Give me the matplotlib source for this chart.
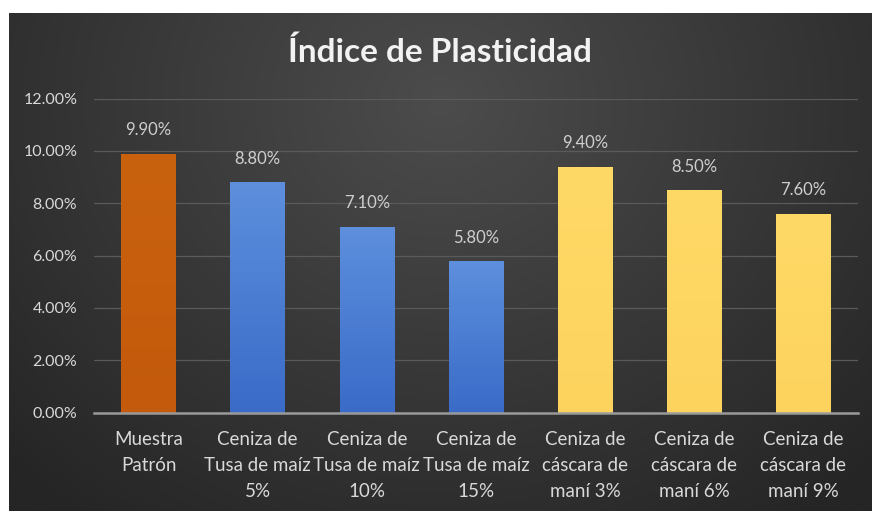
import numpy as np
import matplotlib
matplotlib.use("Agg")
import matplotlib.pyplot as plt
from matplotlib.ticker import FuncFormatter

categories = ["Muestra\nPatrón", "Ceniza de\nTusa de maíz\n5%", "Ceniza de\nTusa de maíz\n10%",
              "Ceniza de\nTusa de maíz\n15%", "Ceniza de\ncáscara de\nmaní 3%",
              "Ceniza de\ncáscara de\nmaní 6%", "Ceniza de\ncáscara de\nmaní 9%"]
values = [0.099, 0.088, 0.071, 0.058, 0.094, 0.085, 0.076]
value_labels = ["9.90%", "8.80%", "7.10%", "5.80%", "9.40%", "8.50%", "7.60%"]
groups = ["orange", "blue", "blue", "blue", "yellow", "yellow", "yellow"]

FONT = "Lato"
TXT = "#d9d9d9"

fig = plt.figure(figsize=(8.72, 5.11), dpi=100, facecolor="white")

# background panel with radial gradient
bg = fig.add_axes([9/872, 0, 1 - 9/872, 1 - 13/511])
bg.set_axis_off()
ny, nx = 300, 500
yy, xx = np.mgrid[0:ny, 0:nx]
cx, cy = nx * 0.5, ny * 0.18
r = np.sqrt(((xx - cx) / (nx * 0.7)) ** 2 + ((yy - cy) / (ny * 1.05)) ** 2)
r = np.clip(r, 0, 1)
c_in = np.array([0x4c, 0x4c, 0x4c]) / 255
c_out = np.array([0x25, 0x25, 0x25]) / 255
img = c_in[None, None, :] * (1 - r[..., None]) + c_out[None, None, :] * r[..., None]
bg.imshow(img, aspect="auto", extent=[0, 1, 0, 1], origin="upper")
bg.set_xlim(0, 1)
bg.set_ylim(0, 1)

ax = fig.add_axes([94/872, 1 - 412.5/511, (858 - 94)/872, (412.5 - 98.6)/511])
ax.patch.set_alpha(0)
x = np.arange(len(categories))
bars = ax.bar(x, values, width=0.5, color="none", zorder=3)

grad = {
    "orange": ("#c9620f", "#c35a0c"),
    "blue": ("#5d8fdd", "#3a6bc8"),
    "yellow": ("#ffd966", "#fdd35e"),
}
for b, g in zip(bars, groups):
    top, bot = grad[g]
    t = matplotlib.colors.to_rgb(top)
    bt = matplotlib.colors.to_rgb(bot)
    h = 100
    f = np.linspace(0, 1, h)[:, None]
    col = np.array(t)[None, :] * (1 - f) + np.array(bt)[None, :] * f
    im = ax.imshow(col[:, None, :], aspect="auto",
                   extent=[b.get_x(), b.get_x() + b.get_width(), 0, b.get_height()],
                   origin="upper", zorder=3)
    im.set_clip_path(b)

for xi, v, lab in zip(x, values, value_labels):
    ax.annotate(lab, (xi, v), xytext=(0, 11), textcoords="offset points",
                ha="center", va="bottom", color="#cfcfcf",
                fontsize=12, family=FONT, zorder=4)

ax.set_xlim(-0.5, len(categories) - 0.5)
ax.set_ylim(0, 0.12)
ax.set_yticks(np.arange(0, 0.1201, 0.02))
ax.yaxis.set_major_formatter(FuncFormatter(lambda v, p: f"{v*100:.2f}%"))
ax.grid(axis="y", color="#5a5a5a", linewidth=0.9, zorder=1)
ax.set_axisbelow(True)
for s in ["top", "right", "left"]:
    ax.spines[s].set_visible(False)
ax.spines["bottom"].set_color("#9a9a9a")
ax.spines["bottom"].set_linewidth(1.8)
ax.spines["bottom"].set_zorder(5)
ax.tick_params(axis="y", length=0, pad=12, colors=TXT, labelsize=11.5)
ax.tick_params(axis="x", length=0, pad=13, colors=TXT, labelsize=13.5)
ax.set_xticks(x)
ax.set_xticklabels(categories, family=FONT, linespacing=1.65)
for lab in ax.get_yticklabels():
    lab.set_family(FONT)

fig.text(0.505, 1 - 52/511, "Índice de Plasticidad", ha="center", va="center",
         color="#f2f2f2", fontsize=24, family=FONT, fontweight="bold")

fig.savefig("out.png", dpi=100, facecolor="white")
